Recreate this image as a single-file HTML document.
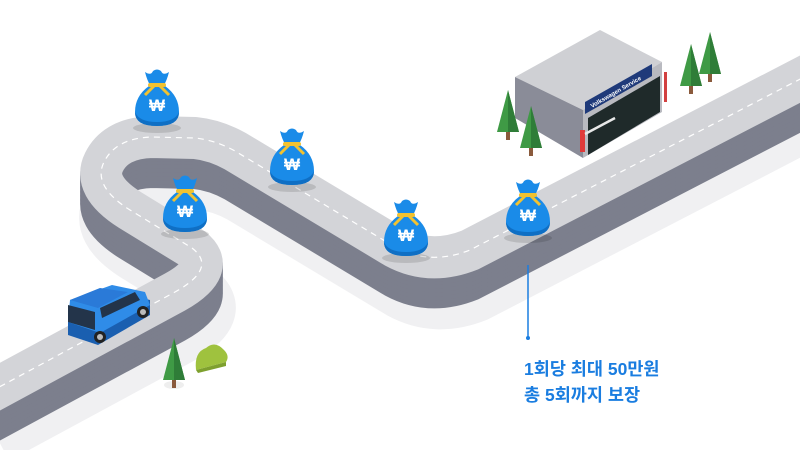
<!DOCTYPE html>
<html><head><meta charset="utf-8"><style>
html,body{margin:0;padding:0;background:#fff;}
svg{display:block}
</style></head><body>
<svg width="800" height="450" viewBox="0 0 800 450" xmlns="http://www.w3.org/2000/svg">
<defs>
<path id="road" d="M -10 392 L 175 292 Q 218 268 192 248 L 130 210 Q 92 186 104 162 Q 116 138 152 137 L 195 138 Q 215 140 235 151 L 395 247 Q 430 266 470 250 L 810 74" fill="none" stroke-linejoin="round"/>
<g id="bag">
<ellipse cx="0" cy="30" rx="24" ry="5" fill="#000" opacity="0.12"/>
<path d="M -8 -12 Q -22 -2 -22 14 Q -22 28 0 28 Q 22 28 22 14 Q 22 -2 8 -12 Z" fill="#1a8be8"/>
<path d="M -22 14 Q -22 28 0 28 Q 22 28 22 14 Q 18 24 0 24 Q -18 24 -22 14 Z" fill="#0f6fc4"/>
<path d="M -12 -26 Q -6 -22 -4 -27 Q 0 -30 4 -27 Q 6 -22 12 -26 Q 10 -18 7 -13 L -7 -13 Q -10 -18 -12 -26 Z" fill="#1a8be8"/>
<rect x="-9" y="-15" width="18" height="4" rx="2" fill="#f2c230"/>
<path d="M -3 -12 L -12 -3 M 3 -12 L 12 -3" stroke="#f2c230" stroke-width="3" fill="none"/>
<text x="0" y="13" text-anchor="middle" font-family="Liberation Sans, sans-serif" font-size="17" font-weight="bold" fill="#fff">₩</text>
</g>
<g id="tree">
<rect x="-2" y="-2" width="4" height="10" fill="#8a5a3c"/>
<path d="M 0 -42 L 11 0 L -11 0 Z" fill="#3f9a45"/>
<path d="M 0 -42 L 11 0 L 0 0 Z" fill="#2f7d38"/>
</g>
</defs>

<use href="#road" stroke="#f0f0f2" stroke-width="56" transform="translate(6,44)"/>
<g stroke="#7c7f8d" stroke-width="42">
<use href="#road" transform="translate(0,30)"/>
<use href="#road" transform="translate(0,26)"/>
<use href="#road" transform="translate(0,22)"/>
<use href="#road" transform="translate(0,18)"/>
<use href="#road" transform="translate(0,14)"/>
<use href="#road" transform="translate(0,10)"/>
<use href="#road" transform="translate(0,6)"/>
<use href="#road" transform="translate(0,3)"/>
</g>
<use href="#road" stroke="#d3d4d8" stroke-width="42"/>
<use href="#road" stroke="#fff" stroke-width="1.2" stroke-dasharray="6 5"/>

<!-- building -->
<polygon points="515,77 600,30 662,62 583,110" fill="#cfd0d4"/>
<polygon points="515,77 583,110 583,158 515,118" fill="#8a8c98"/>
<polygon points="583,110 662,62 662,112 583,158" fill="#b9bac0"/>
<polygon points="588,118 660,76 660,112 588,155" fill="#1f2a2a"/>
<polygon points="585,102 652,64 652,76 585,114" fill="#1f3a7a"/>
<text x="0" y="0" transform="translate(592,108) rotate(-30)" font-family="Liberation Sans, sans-serif" font-size="6" font-weight="bold" fill="#fff">Volkswagen Service</text>
<rect x="580" y="130" width="5" height="22" fill="#e03a3a"/>
<path d="M 585 134 L 615 118" stroke="#e8e8e8" stroke-width="2.5"/>
<rect x="664" y="72" width="3" height="30" fill="#d24040"/>
<use href="#tree" transform="translate(508,132)"/>
<use href="#tree" transform="translate(531,148)"/>
<use href="#tree" transform="translate(691,86)"/>
<use href="#tree" transform="translate(710,74)"/>

<use href="#bag" transform="translate(157,98)"/>
<use href="#bag" transform="translate(185,204)"/>
<use href="#bag" transform="translate(292,157)"/>
<use href="#bag" transform="translate(406,228)"/>
<use href="#bag" transform="translate(528,208)"/>

<!-- car -->
<polygon points="68,320 118,292 150,300 150,315 98,345 68,335" fill="#1a5fb0"/>
<polygon points="70,300 112,285 145,292 150,305 100,333 68,322" fill="#2f8ce8"/>
<polygon points="70,300 100,288 128,292 98,308" fill="#2a7ad8"/>
<polygon points="68,305 95,312 95,330 68,322" fill="#23344a"/>
<polygon points="100,308 135,292 140,300 102,318" fill="#23344a"/>
<circle cx="100" cy="337" r="6" fill="#222"/><circle cx="100" cy="337" r="3" fill="#bbb"/>
<circle cx="143" cy="312" r="6" fill="#222"/><circle cx="143" cy="312" r="3" fill="#bbb"/>

<ellipse cx="174" cy="385" rx="10" ry="4" fill="#eee"/>
<use href="#tree" transform="translate(174,380)"/>
<path d="M 196 370 Q 194 352 206 348 Q 215 340 224 350 Q 230 356 226 362 Z" fill="#9fc23e"/>
<path d="M 196 370 L 226 362 L 226 366 L 198 373 Z" fill="#7ea02e"/>

<line x1="528" y1="265" x2="528" y2="338" stroke="#1a7de0" stroke-width="1.5"/>
<circle cx="528" cy="338" r="2" fill="#1a7de0"/>
<text x="524" y="375" font-family="Liberation Sans, 'Noto Sans CJK KR', sans-serif" font-size="17.5" font-weight="bold" fill="#1a7de0">1회당 최대 50만원</text>
<text x="524" y="401" font-family="Liberation Sans, 'Noto Sans CJK KR', sans-serif" font-size="17.5" font-weight="bold" fill="#1a7de0">총 5회까지 보장</text>
</svg>
</body></html>
